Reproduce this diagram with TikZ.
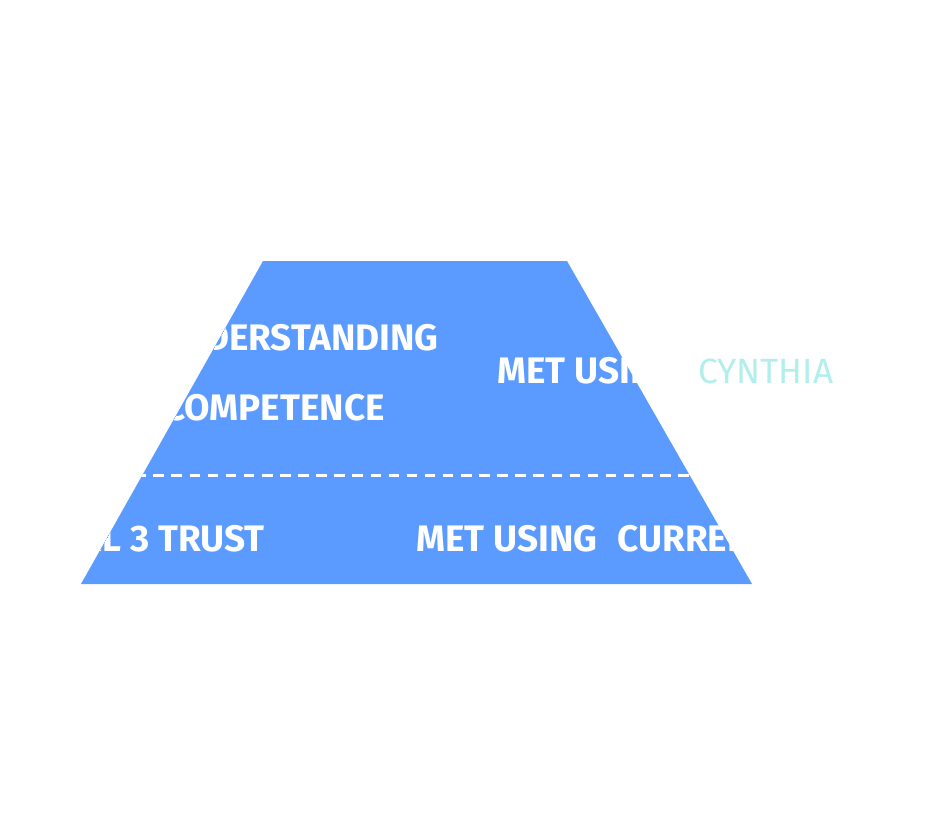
\documentclass[tikz,border=0pt]{standalone}
\usepackage{fontspec}
\setmainfont{Fira Sans}
\usetikzlibrary{positioning}
\definecolor{layerblue}{RGB}{91,155,255}
\definecolor{cynthiacyan}{RGB}{178,238,236}

\begin{document}
\begin{tikzpicture}[x=0.02cm,y=-0.02cm,
    layertext/.style={font=\fontsize{21}{24}\selectfont\bfseries,text=white,inner sep=0pt},
    toolname/.style={font=\fontsize{20}{24}\selectfont,text=cynthiacyan,inner sep=0pt}]
  \useasboundingbox (0,0) rectangle (945,821); % 余白を含めた画像全体

  \fill[layerblue] (263,261) -- (567,261) -- (752,584) -- (81,584) -- cycle; % 台形（2層のピラミッド）

  \begin{scope}
    \clip (263,261) -- (567,261) -- (752,584) -- (81,584) -- cycle; % 白い文字と破線は台形の中だけに見える
    \draw[white,line width=1.7pt,dash pattern=on 6pt off 4.3pt] (81,475) -- (752,475); % 上下の層の境界

    % 上の層
    \node[layertext,anchor=base east] (under) at (439,350) {UNDERSTANDING};
    \node[layertext,anchor=base east] (compet) at (385,420) {COMPETENCE};
    \node[layertext,anchor=base west] (metup) at (497,383) {MET USING};

    % 下の層
    \node[layertext,anchor=base east] (trust) at (265,551) {LEVEL 3 TRUST};
    \node[layertext,anchor=base west] (metlow) at (416,551) {MET USING};
    \node[layertext,anchor=base west] (current) at (617,551) {CURRENT};
  \end{scope}

  \node[toolname,anchor=base west] (cynthia) at (698,383) {CYNTHIA}; % 台形の外に出る水色の名前
\end{tikzpicture}
\end{document}
